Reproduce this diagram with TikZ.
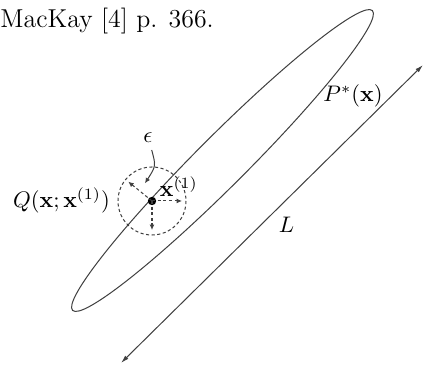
\documentclass[tikz,border=0pt]{standalone}
\usetikzlibrary{arrows.meta}
\begin{document}
\begin{tikzpicture}[x=0.4444pt,y=-0.4444pt,
  thinline/.style={line width=0.45pt,black!75},
  smalltip/.style={-{Latex[length=2.4pt,width=2.2pt]}},
  dashline/.style={thinline,dashed,dash pattern=on 1.4pt off 1.1pt},
  lbl/.style={inner sep=0pt,outer sep=0pt}]
\useasboundingbox (0,0) rectangle (426,366);
% caption
\node[lbl,anchor=base west,font=\fontsize{11.5}{14}\selectfont] (cap) at (0.5,28) {MacKay [4] p. 366.};
% ellipse P*(x)
\coordinate (ec) at (222.5,160.5);
\draw[thinline,rotate around={45:(ec)}] (ec) ellipse [x radius=212, y radius=25];
% line L
\coordinate (La) at (121,363);
\coordinate (Lb) at (423,65);
\draw[thinline,{Latex[length=3.6pt,width=2pt]}-{Latex[length=3.6pt,width=2pt]}] (La) -- (Lb);
% proposal circle
\coordinate (x1) at (152,201);
\draw[dashline] (x1) circle [radius=34];
\fill[black] (x1) circle [radius=4.2];
\coordinate (r1) at (128.3,181.7);
\coordinate (r2) at (182,201);
\coordinate (r3) at (152,230);
\draw[dashline,smalltip] (x1) -- (r1);
\draw[dashline,smalltip] (x1) -- (r2);
\draw[dashline,smalltip] (x1) -- (r3);
% labels
\node[lbl] (eps) at (148,138) {$\epsilon$};
\coordinate (es) at (151.7,150);
\coordinate (ee) at (145,183.3);
\draw[thinline,smalltip] (es) .. controls (156,166) .. (ee);
\node[lbl,anchor=base] (Q) at (61.5,208) {$Q(\mathbf{x};\mathbf{x}^{(1)})$};
\node[lbl,anchor=base west] (xl) at (160,197) {$\mathbf{x}^{(1)}$};
\node[lbl,anchor=base] (P) at (353,102) {$P^{*}(\mathbf{x})$};
\node[lbl,anchor=base] (L) at (286.5,233) {$L$};
\end{tikzpicture}
\end{document}
